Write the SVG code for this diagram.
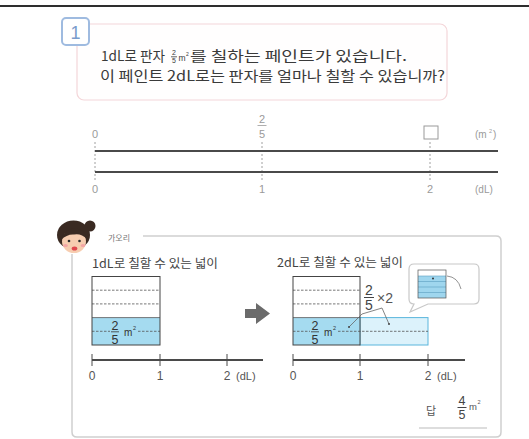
<svg xmlns="http://www.w3.org/2000/svg" width="529" height="439" viewBox="0 0 529 439">
  <style>
    .kr { font-family: "Noto Sans CJK KR", "Noto Sans", sans-serif; }
    .num { font-family: "Liberation Sans", "Noto Sans", sans-serif; }
    .q { font-size: 14px; fill: #3a3a3a; }
    .gray { fill: #9a9a9a; }
    .axis { stroke: #4a4a4a; stroke-width: 2; }
    .tick { stroke: #a0a0a0; stroke-width: 1; stroke-dasharray: 2 2; }
    .tick2 { stroke: #4a4a4a; stroke-width: 1; }
    .dash { stroke: #555; stroke-width: 0.8; stroke-dasharray: 2.5 1.5; fill: none; }
    .frac { stroke-width: 0.8; }
    .lbl { font-size: 12px; fill: #444; }
  </style>

  <!-- page rule -->
  <line x1="0" y1="6" x2="529" y2="6" stroke="#2e2e2e" stroke-width="2"/>

  <!-- question card -->
  <g id="question">
    <rect x="77" y="24" width="370" height="76" rx="7" fill="#fffefe" stroke="#f4d6d9" stroke-width="1.2"/>
    <rect x="62" y="18" width="27" height="27" rx="4" fill="#ffffff" stroke="#9fbbe0" stroke-width="2"/>
    <text x="75.5" y="39" class="num" font-size="18" fill="#7a9ccc" text-anchor="middle">1</text>
    <text x="101" y="61" class="kr q" textLength="64" lengthAdjust="spacingAndGlyphs">1dL로 판자</text>
    <text x="174" y="55" class="num" font-size="7" fill="#3a3a3a" text-anchor="middle">2</text>
    <line x1="171" y1="56.8" x2="177" y2="56.8" stroke="#3a3a3a" class="frac"/>
    <text x="174" y="63" class="num" font-size="7" fill="#3a3a3a" text-anchor="middle">5</text>
    <text x="178.5" y="61" class="num" font-size="8.5" fill="#3a3a3a">m</text>
    <text x="186" y="56" class="num" font-size="5" fill="#3a3a3a">2</text>
    <text x="190" y="61" class="kr q" textLength="217" lengthAdjust="spacingAndGlyphs">를 칠하는 페인트가 있습니다.</text>
    <text x="100" y="81" class="kr q" textLength="345" lengthAdjust="spacingAndGlyphs">이 페인트 2dL로는 판자를 얼마나 칠할 수 있습니까?</text>
  </g>

  <!-- double number line -->
  <g id="number-line">
    <line x1="95" y1="142" x2="95" y2="182" class="tick"/>
    <line x1="262" y1="142" x2="262" y2="182" class="tick"/>
    <line x1="430" y1="142" x2="430" y2="182" class="tick"/>
    <line x1="95" y1="151" x2="498" y2="151" class="axis"/>
    <line x1="95" y1="172" x2="498" y2="172" class="axis"/>
    <text x="95" y="138" class="num gray" font-size="11" text-anchor="middle">0</text>
    <text x="262" y="123" class="num gray" font-size="11" text-anchor="middle">2</text>
    <line x1="257.5" y1="125.5" x2="266.5" y2="125.5" stroke="#9a9a9a" class="frac"/>
    <text x="262" y="137.5" class="num gray" font-size="11" text-anchor="middle">5</text>
    <rect x="424" y="126" width="14" height="13" fill="none" stroke="#9a9a9a" stroke-width="1"/>
    <text x="475" y="138" class="num gray" font-size="10">(m</text>
    <text x="489" y="133" class="num gray" font-size="5.5">2</text>
    <text x="493" y="138" class="num gray" font-size="10">)</text>
    <text x="95" y="193" class="num gray" font-size="11" text-anchor="middle">0</text>
    <text x="262" y="193" class="num gray" font-size="11" text-anchor="middle">1</text>
    <text x="430" y="193" class="num gray" font-size="11" text-anchor="middle">2</text>
    <text x="475" y="193" class="num gray" font-size="10">(dL)</text>
  </g>

  <!-- solution panel -->
  <g id="panel">
    <path d="M143,236 H496 Q501,236 501,241 V432 Q501,437 496,437 H77 Q72,437 72,432 V254" fill="none" stroke="#cfcfcf" stroke-width="1.5"/>
    <!-- girl avatar -->
    <g id="girl">
      <circle cx="90" cy="226" r="5.5" fill="#3a2a22"/>
      <ellipse cx="73.5" cy="235" rx="16.5" ry="14.5" fill="#3a2a22"/>
      <ellipse cx="74" cy="241.5" rx="12" ry="11.5" fill="#f7cdb0"/>
      <path d="M61,240 Q64,228 76,228.5 Q85,229.5 87,239 Q81,233 74,234.5 Q67,234 61,240 Z" fill="#3a2a22"/>
      <circle cx="69" cy="241" r="1.3" fill="#2a2a2a"/>
      <circle cx="79.5" cy="241" r="1.3" fill="#2a2a2a"/>
      <ellipse cx="65.5" cy="245.5" rx="2.4" ry="1.5" fill="#f4a5a5"/>
      <ellipse cx="83" cy="245.5" rx="2.4" ry="1.5" fill="#f4a5a5"/>
      <ellipse cx="74.5" cy="248.5" rx="2.8" ry="2" fill="#e0484e"/>
    </g>
    <text x="108" y="241" class="kr" font-size="8" fill="#777">가오리</text>
  </g>

  <!-- 1 dL area -->
  <g id="area-1dl">
    <text x="92" y="268" class="kr lbl" textLength="126" lengthAdjust="spacingAndGlyphs">1dL로 칠할 수 있는 넓이</text>
    <rect x="92" y="317.6" width="68" height="27.4" fill="#a5dbf0"/>
    <line x1="92" y1="290.2" x2="160" y2="290.2" class="dash"/>
    <line x1="92" y1="303.9" x2="160" y2="303.9" class="dash"/>
    <line x1="92" y1="331.3" x2="110" y2="331.3" class="dash"/>
    <line x1="138" y1="331.3" x2="160" y2="331.3" class="dash"/>
    <line x1="92" y1="317.6" x2="160" y2="317.6" stroke="#555" stroke-width="0.8"/>
    <rect x="92" y="276.5" width="68" height="68.5" fill="none" stroke="#444" stroke-width="1"/>
    <text x="115" y="330" class="num" font-size="12.5" fill="#333" text-anchor="middle">2</text>
    <line x1="111" y1="331.8" x2="119" y2="331.8" stroke="#333" class="frac"/>
    <text x="115" y="344" class="num" font-size="12.5" fill="#333" text-anchor="middle">5</text>
    <text x="124" y="336" class="num" font-size="10" fill="#333">m</text>
    <text x="133" y="330" class="num" font-size="5.5" fill="#333">2</text>
    <!-- axis -->
    <line x1="92" y1="360" x2="263" y2="360" class="axis"/>
    <line x1="92" y1="354" x2="92" y2="366" class="tick2"/>
    <line x1="160" y1="354" x2="160" y2="366" class="tick2"/>
    <line x1="227" y1="354" x2="227" y2="366" class="tick2"/>
    <text x="92" y="380" class="num" font-size="12" fill="#555" text-anchor="middle">0</text>
    <text x="160" y="380" class="num" font-size="12" fill="#555" text-anchor="middle">1</text>
    <text x="227" y="380" class="num" font-size="12" fill="#555" text-anchor="middle">2</text>
    <text x="236" y="380" class="num" font-size="11" fill="#555">(dL)</text>
  </g>

  <!-- arrow -->
  <g id="arrow">
    <path d="M245,309 H256 V303 L270,313.5 L256,324 V318 H245 Z" fill="#6b6b6b"/>
  </g>

  <!-- 2 dL area -->
  <g id="area-2dl">
    <text x="277" y="267" class="kr lbl" textLength="126" lengthAdjust="spacingAndGlyphs">2dL로 칠할 수 있는 넓이</text>
    <rect x="360" y="317.6" width="68" height="27.4" fill="#dcf2fb" stroke="#5ab6dc" stroke-width="1"/>
    <rect x="293" y="317.6" width="67" height="27.4" fill="#a5dbf0"/>
    <line x1="293" y1="290.2" x2="360" y2="290.2" class="dash"/>
    <line x1="293" y1="303.9" x2="360" y2="303.9" class="dash"/>
    <line x1="293" y1="331.3" x2="310" y2="331.3" class="dash"/>
    <line x1="338" y1="331.3" x2="428" y2="331.3" class="dash"/>
    <line x1="293" y1="317.6" x2="360" y2="317.6" stroke="#555" stroke-width="0.8"/>
    <rect x="293" y="276.5" width="67" height="68.5" fill="none" stroke="#444" stroke-width="1"/>
    <text x="315" y="330" class="num" font-size="12.5" fill="#333" text-anchor="middle">2</text>
    <line x1="311" y1="331.8" x2="319" y2="331.8" stroke="#333" class="frac"/>
    <text x="315" y="344" class="num" font-size="12.5" fill="#333" text-anchor="middle">5</text>
    <text x="324" y="336" class="num" font-size="10" fill="#333">m</text>
    <text x="333" y="330" class="num" font-size="5.5" fill="#333">2</text>
    <!-- 2/5 x 2 label -->
    <text x="369" y="295" class="num" font-size="14" fill="#444" text-anchor="middle">2</text>
    <line x1="364" y1="297.5" x2="374" y2="297.5" stroke="#444" stroke-width="1"/>
    <text x="369" y="310" class="num" font-size="14" fill="#444" text-anchor="middle">5</text>
    <text x="377" y="303" class="num" font-size="14" fill="#555">×2</text>
    <!-- leader lines -->
    <polyline points="349,327 362,314 382,308 389,324" fill="none" stroke="#666" stroke-width="0.8"/>
    <circle cx="349" cy="327" r="1" fill="#444"/>
    <circle cx="389" cy="324" r="1" fill="#444"/>
    <!-- axis -->
    <line x1="293" y1="360" x2="465" y2="360" class="axis"/>
    <line x1="293" y1="354" x2="293" y2="366" class="tick2"/>
    <line x1="360" y1="354" x2="360" y2="366" class="tick2"/>
    <line x1="428" y1="354" x2="428" y2="366" class="tick2"/>
    <text x="293" y="380" class="num" font-size="12" fill="#555" text-anchor="middle">0</text>
    <text x="360" y="380" class="num" font-size="12" fill="#555" text-anchor="middle">1</text>
    <text x="428" y="380" class="num" font-size="12" fill="#555" text-anchor="middle">2</text>
    <text x="437" y="380" class="num" font-size="11" fill="#555">(dL)</text>
  </g>

  <!-- speech bubble with small sketch -->
  <g id="bubble">
    <path d="M414,264 H474 Q479,264 479,269 V299 Q479,304 474,304 H428 L410,312 L414,304 Q409,304 409,299 V269 Q409,264 414,264 Z" fill="#ffffff" stroke="#c8c8c8" stroke-width="1.2"/>
    <rect x="418" y="276" width="28" height="22" fill="#9fd6ee"/>
    <line x1="418" y1="276" x2="446" y2="276" stroke="#5a9ec0" stroke-width="0.6"/>
    <line x1="418" y1="281.5" x2="446" y2="281.5" stroke="#5a9ec0" stroke-width="0.6"/>
    <line x1="418" y1="287" x2="446" y2="287" stroke="#5a9ec0" stroke-width="0.6"/>
    <line x1="418" y1="292.5" x2="446" y2="292.5" stroke="#5a9ec0" stroke-width="0.6"/>
    <rect x="418" y="270" width="28" height="28" fill="none" stroke="#555" stroke-width="0.7"/>
    <circle cx="433" cy="278.5" r="1" fill="#333"/>
    <path d="M447,276 Q458,277 461,289" fill="none" stroke="#777" stroke-width="0.8"/>
  </g>

  <!-- answer -->
  <g id="answer">
    <text x="431" y="415" class="kr" font-size="11" fill="#555" text-anchor="middle">답</text>
    <text x="462" y="405" class="num" font-size="12.5" fill="#444" text-anchor="middle">4</text>
    <line x1="457.5" y1="407.5" x2="466.5" y2="407.5" stroke="#444" stroke-width="1"/>
    <text x="462" y="419" class="num" font-size="12.5" fill="#444" text-anchor="middle">5</text>
    <text x="469" y="410" class="num" font-size="9.5" fill="#555">m</text>
    <text x="477.5" y="404" class="num" font-size="5.5" fill="#555">2</text>
    <line x1="419" y1="428" x2="487" y2="428" stroke="#bbbbbb" stroke-width="1"/>
  </g>
</svg>
